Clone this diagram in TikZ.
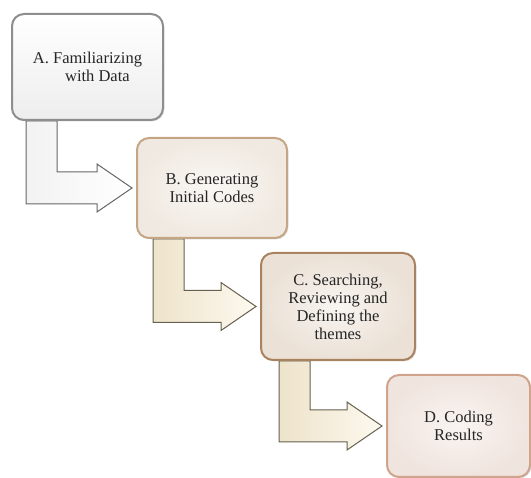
\documentclass[tikz,border=0pt]{standalone}
\usepackage{fontspec}
\setmainfont{Liberation Serif}
\usetikzlibrary{calc}
\usetikzlibrary{positioning}
\usetikzlibrary{shadows}
\usetikzlibrary{backgrounds}

\definecolor{graybox}{HTML}{8E8E8E}
\definecolor{tanbox}{HTML}{C4A584}
\definecolor{brownbox}{HTML}{A9835F}
\definecolor{pinkbox}{HTML}{CFA38C}
\definecolor{creamfill}{HTML}{F4EFE9}
\definecolor{beigefill}{HTML}{F2EBE3}
\definecolor{rosefill}{HTML}{F3EAE5}
\definecolor{arrowline}{HTML}{66604F}
\definecolor{creamleft}{HTML}{EEE3CB}
\definecolor{creamright}{HTML}{FDF9EF}

\tikzset{
  stage/.style={rectangle, rounded corners=12pt, align=center, line width=2pt,
    font=\fontsize{16.5}{18}\selectfont, text=black!85,
    drop shadow={shadow xshift=1.3pt, shadow yshift=-1.3pt, opacity=0.3}},
  graystage/.style={stage, draw=graybox, top color=white, bottom color=black!7},
  tanstage/.style={stage, draw=tanbox, inner color=creamfill!50!white, outer color=creamfill!92!tanbox},
  brownstage/.style={stage, draw=brownbox, inner color=beigefill!50!white, outer color=beigefill!90!brownbox},
  pinkstage/.style={stage, draw=pinkbox, inner color=rosefill!50!white, outer color=rosefill!92!pinkbox},
  grayarrow/.style={draw=black!60, line width=1pt, left color=black!5, right color=white},
  creamarrow/.style={draw=arrowline, line width=1pt, left color=creamleft, right color=creamright},
}

% L-shaped block arrow from the bottom of #1 to the west side of #2
\newcommand\stepto[4]{%
  \path[#3] let \p1=(#1.south west), \p2=(#2.west) in
    (\x1+#4,\y1) -- (\x1+#4,\y2-16pt) -- (\x2-39pt,\y2-16pt)
    -- (\x2-39pt,\y2-24pt) -- (\x2-4pt,\y2) -- (\x2-39pt,\y2+24pt)
    -- (\x2-39pt,\y2+16pt) -- (\x1+#4+31pt,\y2+16pt)
    -- (\x1+#4+31pt,\y1) -- cycle;}

\begin{document}
\begin{tikzpicture}[x=1pt, y=-1pt]

  \useasboundingbox (0,0) rectangle (531,478);

  \node[graystage, minimum width=151pt, minimum height=106pt] (famil) at (87.5,67)
    {A. Familiarizing\\\hspace{1.2em}with Data};
  \node[tanstage, minimum width=150pt, minimum height=100pt] (codes) at (212,188)
    {B. Generating\\Initial Codes};
  \node[brownstage, minimum width=154pt, minimum height=107pt] (themes) at (338,306.5)
    {C. Searching,\\Reviewing and\\Defining the\\themes};
  \node[pinkstage, minimum width=143pt, minimum height=102pt] (results) at (458.5,426)
    {D. Coding\\Results};

  \begin{scope}[on background layer]
    \stepto{famil}{codes}{grayarrow}{15pt}
    \stepto{codes}{themes}{creamarrow}{17pt}
    \stepto{themes}{results}{creamarrow}{19pt}
  \end{scope}

\end{tikzpicture}
\end{document}
